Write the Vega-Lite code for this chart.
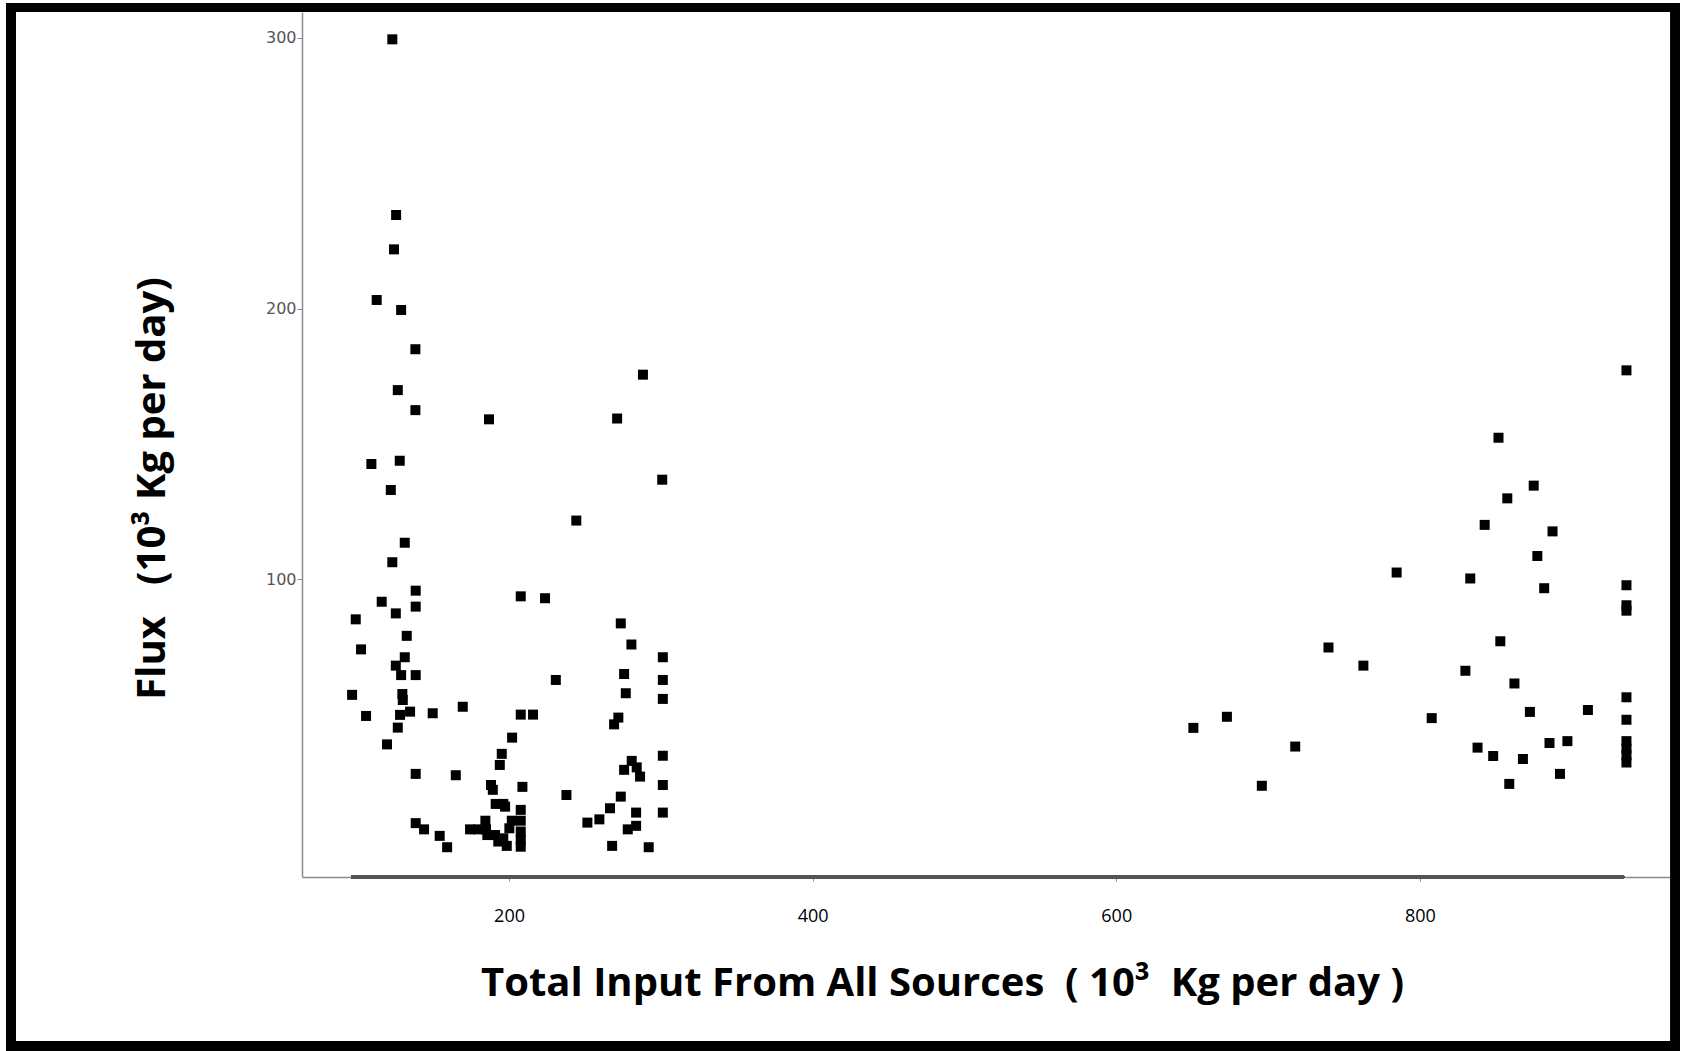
{
  "$schema": "https://vega.github.io/schema/vega-lite/v6.json",
  "autosize": {"type": "none"},
  "padding": {"left": 302, "top": 12, "right": 11, "bottom": 174},
  "width": 1370,
  "height": 865,
  "background": "white",
  "config": {"view": {"stroke": null}},
  "data": {"values": [
    {"x":123.1,"y":299.5},{"x":125.6,"y":234.6},{"x":124.2,"y":221.9},{"x":112.8,"y":203.2},{"x":128.9,"y":199.5},
    {"x":138.3,"y":185.0},{"x":126.7,"y":169.9},{"x":138.3,"y":162.5},{"x":186.8,"y":159.1},{"x":109.3,"y":142.6},
    {"x":128.0,"y":143.8},{"x":122.1,"y":133.0},{"x":131.3,"y":113.5},{"x":123.1,"y":106.3},{"x":138.5,"y":95.8},
    {"x":207.7,"y":93.7},{"x":223.7,"y":93.0},{"x":116.1,"y":91.7},{"x":138.5,"y":89.9},{"x":125.4,"y":87.4},
    {"x":99.0,"y":85.2},{"x":132.6,"y":79.1},{"x":102.5,"y":74.1},{"x":131.3,"y":71.2},{"x":125.4,"y":68.1},
    {"x":128.9,"y":64.6},{"x":138.5,"y":64.6},{"x":96.6,"y":57.3},{"x":129.7,"y":57.6},{"x":130.0,"y":55.4},
    {"x":105.8,"y":49.5},{"x":128.2,"y":49.9},{"x":134.8,"y":51.1},{"x":149.7,"y":50.5},{"x":169.5,"y":52.9},
    {"x":126.7,"y":45.2},{"x":119.6,"y":39.0},{"x":138.5,"y":28.1},{"x":164.9,"y":27.6},{"x":138.5,"y":9.9},
    {"x":144.0,"y":7.6},{"x":154.3,"y":5.2},{"x":159.2,"y":1.0},
    {"x":207.7,"y":50.0},{"x":215.8,"y":50.0},{"x":202.0,"y":41.5},{"x":195.2,"y":35.5},{"x":193.9,"y":31.4},
    {"x":188.1,"y":24.0},{"x":189.3,"y":22.2},{"x":208.8,"y":23.3},{"x":237.8,"y":20.3},{"x":191.2,"y":17.0},
    {"x":196.2,"y":17.0},{"x":197.4,"y":16.0},{"x":207.7,"y":14.8},{"x":184.4,"y":10.8},{"x":201.8,"y":10.8},
    {"x":207.7,"y":10.8},{"x":174.3,"y":7.6},{"x":179.8,"y":7.6},{"x":184.8,"y":7.6},{"x":200.2,"y":8.0},
    {"x":207.7,"y":6.8},{"x":185.7,"y":5.5},{"x":190.8,"y":5.5},{"x":196.2,"y":4.3},{"x":192.9,"y":3.1},
    {"x":207.7,"y":3.7},{"x":198.5,"y":1.5},{"x":207.7,"y":1.2},{"x":244.3,"y":121.7},{"x":230.8,"y":62.8},
    {"x":273.6,"y":83.7},{"x":280.6,"y":75.9},{"x":301.3,"y":71.2},{"x":275.8,"y":65.0},{"x":301.3,"y":62.8},
    {"x":276.9,"y":57.9},{"x":301.3,"y":55.8},{"x":272.0,"y":48.9},{"x":269.2,"y":46.4},{"x":301.3,"y":34.8},
    {"x":280.8,"y":32.9},{"x":284.1,"y":30.5},{"x":275.8,"y":29.6},{"x":286.3,"y":27.1},{"x":301.3,"y":24.0},
    {"x":273.6,"y":19.7},{"x":266.5,"y":15.4},{"x":259.5,"y":11.3},{"x":251.6,"y":10.1},{"x":283.7,"y":13.8},
    {"x":301.3,"y":13.8},{"x":283.7,"y":8.9},{"x":278.2,"y":7.6},{"x":267.9,"y":1.5},{"x":292.0,"y":1.0},
    {"x":271.2,"y":159.4},{"x":288.2,"y":175.6},{"x":300.9,"y":136.8},
    {"x":936.1,"y":177.2},{"x":851.8,"y":152.3},{"x":875.0,"y":134.6},{"x":857.6,"y":129.9},{"x":842.7,"y":120.1},
    {"x":887.4,"y":117.7},{"x":877.4,"y":108.6},{"x":784.7,"y":102.5},{"x":833.2,"y":100.3},{"x":881.9,"y":96.7},
    {"x":936.1,"y":97.8},{"x":936.1,"y":90.4},{"x":936.1,"y":88.4},{"x":853.0,"y":77.1},{"x":739.8,"y":74.8},
    {"x":762.8,"y":68.1},{"x":830.0,"y":66.2},{"x":862.3,"y":61.5},{"x":936.1,"y":56.4},{"x":910.7,"y":51.7},
    {"x":872.5,"y":51.0},{"x":672.9,"y":49.2},{"x":807.8,"y":48.7},{"x":650.8,"y":45.1},{"x":936.1,"y":48.1},
    {"x":936.1,"y":40.2},{"x":936.1,"y":37.5},{"x":936.1,"y":35.0},{"x":936.1,"y":32.3},{"x":885.4,"y":39.5},
    {"x":897.2,"y":40.2},{"x":838.0,"y":37.8},{"x":848.3,"y":34.7},{"x":867.9,"y":33.6},{"x":717.9,"y":38.2},
    {"x":695.9,"y":23.7},{"x":892.3,"y":28.1},{"x":858.9,"y":24.4}
  ]},
  "layer": [
    {
      "mark": {"type": "square", "size": 100, "color": "black", "opacity": 1, "filled": true},
      "encoding": {
        "x": {"field": "x", "type": "quantitative",
          "scale": {"domain": [63.6, 966.1], "nice": false, "zero": false},
          "axis": {
            "values": [200, 400, 600, 800], "grid": false,
            "domainColor": "#8c8c8c", "domainWidth": 1.5,
            "tickColor": "#8c8c8c", "tickSize": 4, "tickWidth": 1,
            "labelFont": "Open Sans", "labelFontSize": 18, "labelColor": "black", "labelPadding": 26,
            "title": "Total Input From All Sources \u00a0( 10³ \u00a0Kg per day )",
            "titleFont": "Open Sans", "titleFontWeight": "bold", "titleFontSize": 40, "titleColor": "black",
            "titleX": 640, "titleY": 118, "titleAlign": "center", "titleBaseline": "alphabetic"
          }
        },
        "y": {"field": "y", "type": "quantitative",
          "scale": {"domain": [-10, 309.6], "nice": false, "zero": false},
          "axis": {
            "values": [100, 200, 300], "grid": false,
            "domainColor": "#8c8c8c", "domainWidth": 1.5,
            "tickColor": "#8c8c8c", "tickSize": 5, "tickWidth": 1,
            "labelFont": "DejaVu Sans", "labelFontSize": 16, "labelColor": "#555555", "labelPadding": 1,
            "title": "Flux \u00a0 (10³ Kg per day)",
            "titleFont": "Open Sans", "titleFontWeight": "bold", "titleFontSize": 40, "titleColor": "black",
            "titleX": -138, "titleY": 476, "titleAngle": 270, "titleAlign": "center", "titleBaseline": "alphabetic"
          }
        }
      }
    },
    {
      "mark": {"type": "rule", "color": "#555555", "strokeWidth": 2.5},
      "encoding": {
        "x": {"datum": 95.9, "type": "quantitative"},
        "x2": {"datum": 934.5},
        "y": {"datum": -10, "type": "quantitative"}
      }
    },
    {
      "mark": {"type": "rect", "filled": false, "stroke": "black", "strokeWidth": 9, "clip": false},
      "encoding": {
        "x": {"datum": -128, "type": "quantitative"},
        "x2": {"datum": 968.4},
        "y": {"datum": 311.3, "type": "quantitative"},
        "y2": {"datum": -72.4}
      }
    }
  ]
}
